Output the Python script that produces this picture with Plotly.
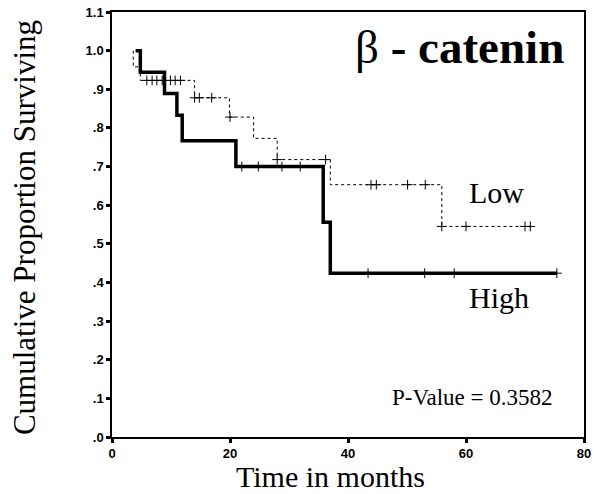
import plotly.graph_objects as go

# Kaplan-Meier step data (time in months, cumulative proportion surviving)
high_time = [4.0, 4.8, 8.9, 11.0, 11.9, 21.0, 35.8, 37.0, 75.4]
high_surv = [1.0, 0.944, 0.889, 0.833, 0.767, 0.700, 0.556, 0.424, 0.424]
high_cens_time = [22.0, 24.8, 28.8, 31.9, 43.4, 53.0, 58.0, 75.4]
high_cens_surv = [0.700, 0.700, 0.700, 0.700, 0.424, 0.424, 0.424, 0.424]

low_time = [3.6, 3.6, 4.8, 14.0, 19.9, 24.0, 28.0, 37.0, 55.9, 71.0]
low_surv = [1.0, 0.958, 0.923, 0.878, 0.828, 0.773, 0.718, 0.653, 0.545, 0.545]
low_cens_time = [5.9, 6.8, 7.6, 8.5, 9.9, 10.7, 11.6, 14.0, 14.8, 16.9, 20.0,
                 28.0, 36.2, 43.9, 44.8, 50.1, 53.1, 55.9, 60.0, 70.0, 70.9]
low_cens_surv = [0.923] * 7 + [0.878] * 3 + [0.828] + [0.718] * 2 + [0.653] * 4 + [0.545] * 4

y_ticks = [0, 0.1, 0.2, 0.3, 0.4, 0.5, 0.6, 0.7, 0.8, 0.9, 1.0, 1.1]
y_labels = [".0", ".1", ".2", ".3", ".4", ".5", ".6", ".7", ".8", ".9", "1.0", "1.1"]
x_ticks = [0, 20, 40, 60, 80]

fig = go.Figure()
fig.add_trace(go.Scatter(x=low_time, y=low_surv, mode="lines", line_shape="hv",
                         line=dict(color="black", width=1, dash="3px,3px"), showlegend=False))
fig.add_trace(go.Scatter(x=low_cens_time, y=low_cens_surv, mode="markers",
                         marker=dict(symbol="cross-thin", size=7, line=dict(color="black", width=1)),
                         showlegend=False))
fig.add_trace(go.Scatter(x=high_time, y=high_surv, mode="lines", line_shape="hv",
                         line=dict(color="black", width=3.5), showlegend=False))
fig.add_trace(go.Scatter(x=high_cens_time, y=high_cens_surv, mode="markers",
                         marker=dict(symbol="cross-thin", size=7, line=dict(color="black", width=1)),
                         showlegend=False))

serif = "Liberation Serif, Times New Roman, serif"
sans = "Liberation Sans, Arial, sans-serif"

fig.update_layout(
    width=594, height=494,
    margin=dict(l=112, r=10, t=12, b=57, autoexpand=False),
    paper_bgcolor="white", plot_bgcolor="white",
    font=dict(family=sans, color="black"),
    xaxis=dict(range=[0, 80], tickvals=x_ticks, ticks="outside", ticklen=4, tickwidth=3,
               tickcolor="black", showline=True, linecolor="black", linewidth=1.5, mirror=True,
               showgrid=False, zeroline=False, automargin=False,
               tickfont=dict(family=sans, size=13, color="black", weight="bold")),
    yaxis=dict(range=[0, 1.1], tickvals=y_ticks, ticktext=y_labels, ticks="outside", ticklen=4,
               tickwidth=3, tickcolor="black", showline=True, linecolor="black", linewidth=1.5,
               mirror=True, showgrid=False, zeroline=False, automargin=False,
               tickfont=dict(family=sans, size=13, color="black", weight="bold")),
    annotations=[
        dict(x=77, y=1.009, xref="x", yref="y", xanchor="right", yanchor="middle", showarrow=False,
             text="β<b> - catenin</b>", font=dict(family=serif, size=47, color="black")),
        dict(x=60.1, y=0.634, xref="x", yref="y", xanchor="left", yanchor="middle", showarrow=False,
             text="Low", font=dict(family=serif, size=30, color="black")),
        dict(x=60.1, y=0.36, xref="x", yref="y", xanchor="left", yanchor="middle", showarrow=False,
             text="High", font=dict(family=serif, size=30, color="black")),
        dict(x=75.1, y=0.1035, xref="x", yref="y", xanchor="right", yanchor="middle", showarrow=False,
             text="P-Value = 0.3582", font=dict(family=serif, size=23, color="black")),
        dict(x=0.462, y=-0.0936, xref="paper", yref="paper", xanchor="center", yanchor="middle",
             showarrow=False, borderpad=0,
             text="Time in months", font=dict(family=serif, size=30, color="black")),
        dict(x=-0.184, y=0.492, xref="paper", yref="paper", xanchor="center", yanchor="middle",
             showarrow=False, textangle=-90,
             text="Cumulative Proportion Surviving", font=dict(family=serif, size=31, color="black")),
    ],
)

fig.write_html("out.html", config={"displayModeBar": False},
               post_script="document.body.style.margin='0';document.body.style.overflow='hidden';")
